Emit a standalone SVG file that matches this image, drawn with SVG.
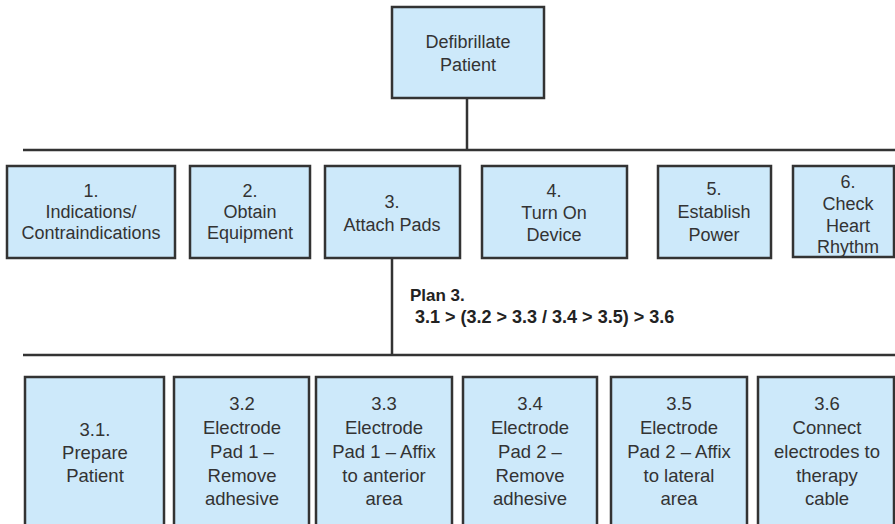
<svg xmlns="http://www.w3.org/2000/svg" width="895" height="524" viewBox="0 0 895 524">
<style>
.box{fill:#cde9fa;stroke:#333;stroke-width:2.5}
.t{font-family:"Liberation Sans",Arial,sans-serif;font-size:18px;fill:#333;text-anchor:middle}
.t2{font-family:"Liberation Sans",Arial,sans-serif;font-size:18.5px;fill:#333;text-anchor:middle}
.plan{font-family:"Liberation Sans",Arial,sans-serif;font-size:17px;font-weight:bold;fill:#222}
.ln{stroke:#333;stroke-width:2.5;fill:none}
</style>
<rect width="895" height="524" fill="#fff"/>
<g id="connectors">
<line class="ln" x1="467" y1="98" x2="467" y2="150"/>
<line class="ln" x1="23" y1="150" x2="895" y2="150"/>
<line class="ln" x1="392" y1="258" x2="392" y2="355"/>
<line class="ln" x1="23" y1="355" x2="895" y2="355"/>
</g>
<g id="root">
<rect class="box" x="392" y="7" width="152" height="91"/>
<text class="t" x="468" y="48">Defibrillate</text>
<text class="t" x="468" y="71">Patient</text>
</g>
<g id="n1">
<rect class="box" x="7" y="166" width="168" height="92"/>
<text class="t" x="91" y="197">1.</text>
<text class="t" x="91" y="218">Indications/</text>
<text class="t" x="91" y="239">Contraindications</text>
</g>
<g id="n2">
<rect class="box" x="190" y="166" width="120" height="92"/>
<text class="t" x="250" y="197">2.</text>
<text class="t" x="250" y="218">Obtain</text>
<text class="t" x="250" y="239">Equipment</text>
</g>
<g id="n3">
<rect class="box" x="325" y="166" width="135" height="92"/>
<text class="t" x="392" y="208">3.</text>
<text class="t" x="392" y="231">Attach Pads</text>
</g>
<g id="n4">
<rect class="box" x="482" y="166" width="145" height="92"/>
<text class="t" x="554" y="197">4.</text>
<text class="t" x="554" y="219">Turn On</text>
<text class="t" x="554" y="241">Device</text>
</g>
<g id="n5">
<rect class="box" x="658" y="166" width="113" height="92"/>
<text class="t" x="714" y="195">5.</text>
<text class="t" x="714" y="218">Establish</text>
<text class="t" x="714" y="241">Power</text>
</g>
<g id="n6">
<rect class="box" x="793" y="166" width="101" height="91"/>
<text class="t" x="848" y="188">6.</text>
<text class="t" x="848" y="210">Check</text>
<text class="t" x="848" y="232">Heart</text>
<text class="t" x="848" y="253">Rhythm</text>
</g>
<g id="plan">
<text class="plan" x="410" y="301">Plan 3.</text>
<text class="plan" x="415" y="323" style="font-size:18px">3.1 &gt; (3.2 &gt; 3.3 / 3.4 &gt; 3.5) &gt; 3.6</text>
</g>
<g id="n3_1">
<rect class="box" x="25" y="377" width="139" height="155"/>
<text class="t2" x="95" y="436">3.1.</text>
<text class="t2" x="95" y="459">Prepare</text>
<text class="t2" x="95" y="482">Patient</text>
</g>
<g id="n3_2">
<rect class="box" x="174" y="377" width="135" height="155"/>
<text class="t2" x="242" y="410">3.2</text>
<text class="t2" x="242" y="434">Electrode</text>
<text class="t2" x="242" y="458">Pad 1 –</text>
<text class="t2" x="242" y="482">Remove</text>
<text class="t2" x="242" y="505">adhesive</text>
</g>
<g id="n3_3">
<rect class="box" x="316" y="377" width="136" height="155"/>
<text class="t2" x="384" y="410">3.3</text>
<text class="t2" x="384" y="434">Electrode</text>
<text class="t2" x="384" y="458">Pad 1 – Affix</text>
<text class="t2" x="384" y="482">to anterior</text>
<text class="t2" x="384" y="505">area</text>
</g>
<g id="n3_4">
<rect class="box" x="463" y="377" width="134" height="155"/>
<text class="t2" x="530" y="410">3.4</text>
<text class="t2" x="530" y="434">Electrode</text>
<text class="t2" x="530" y="458">Pad 2 –</text>
<text class="t2" x="530" y="482">Remove</text>
<text class="t2" x="530" y="505">adhesive</text>
</g>
<g id="n3_5">
<rect class="box" x="611" y="377" width="136" height="155"/>
<text class="t2" x="679" y="410">3.5</text>
<text class="t2" x="679" y="434">Electrode</text>
<text class="t2" x="679" y="458">Pad 2 – Affix</text>
<text class="t2" x="679" y="482">to lateral</text>
<text class="t2" x="679" y="505">area</text>
</g>
<g id="n3_6">
<rect class="box" x="758" y="377" width="136" height="155"/>
<text class="t2" x="827" y="410">3.6</text>
<text class="t2" x="827" y="434">Connect</text>
<text class="t2" x="827" y="458">electrodes to</text>
<text class="t2" x="827" y="482">therapy</text>
<text class="t2" x="827" y="505">cable</text>
</g>
</svg>
